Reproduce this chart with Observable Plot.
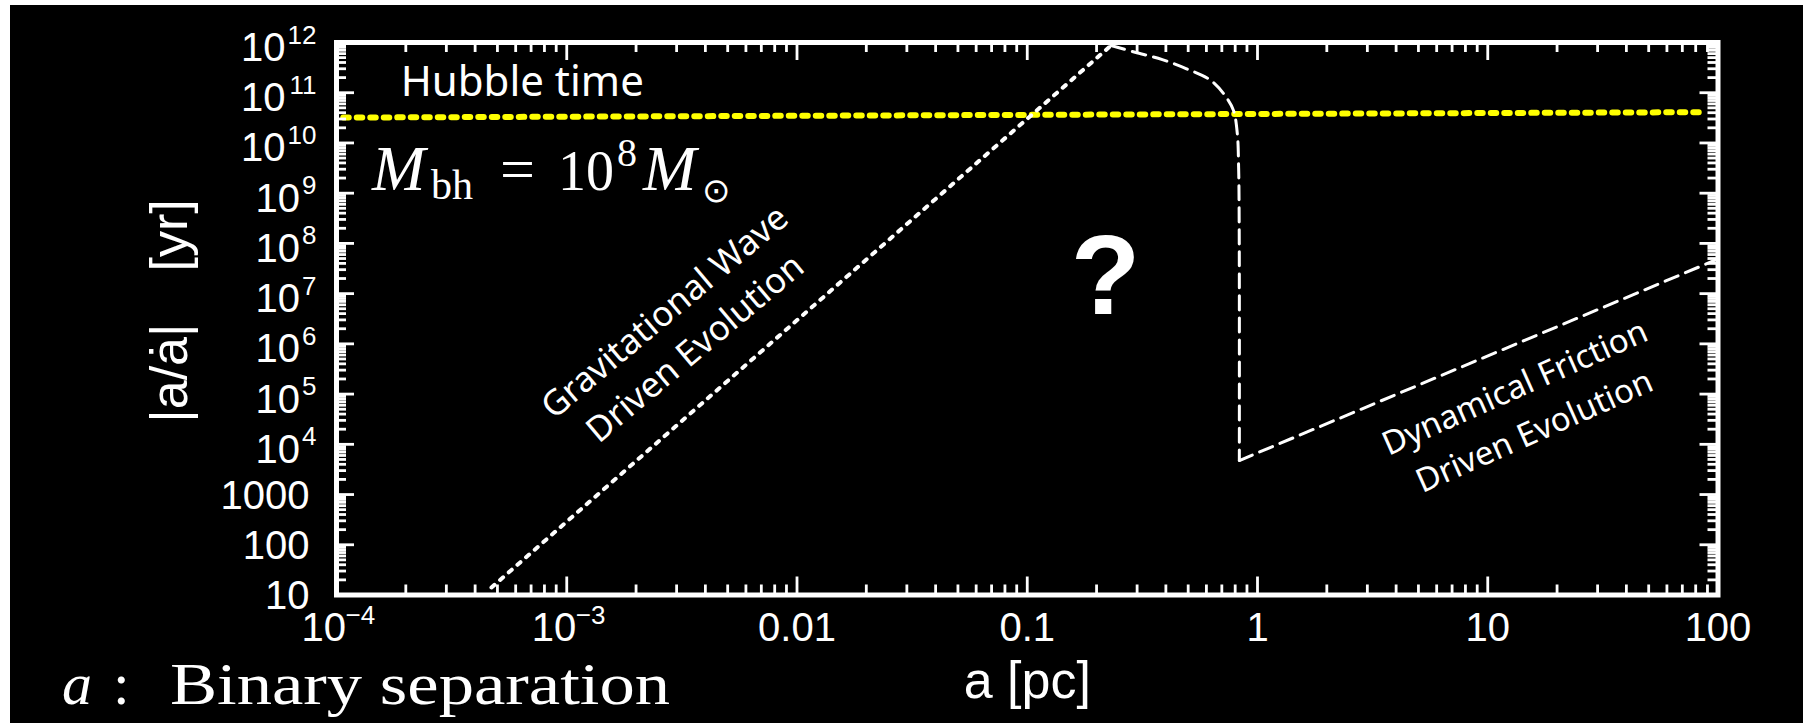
<!DOCTYPE html>
<html>
<head>
<meta charset="utf-8">
<script src="https://cdn.jsdelivr.net/npm/d3@7"></script>
<script src="https://cdn.jsdelivr.net/npm/@observablehq/plot@0.6"></script>
<style>
  html, body { margin: 0; padding: 0; background: #000; }
  #page { position: relative; width: 1803px; height: 723px; overflow: hidden; background: #000; }
  #page svg { position: absolute; left: 0; top: 0; }
  .edge { position: absolute; background: #fff; }
  g[aria-label="tick label"] text { letter-spacing: 1px; stroke: white; stroke-width: 0.6px; }
  g[aria-label="x title"] text { letter-spacing: 4px; }
  g[aria-label="y title"] text { letter-spacing: 4.5px; }
</style>
</head>
<body>
<div id="page"></div>
<script>
// Gravitational-wave driven inspiral: timescale |a/ȧ| ∝ a^4
const gwSeparation = [4.71e-4, 0.231];
const gwTime = [14.1, 8.7e11];

// Stalling regime: from the peak down to the drop near 1 pc
const stallSeparation = [0.231, 0.294, 0.386, 0.492, 0.628, 0.732, 0.787, 0.817, 0.828, 0.833, 0.834];
const stallTime = [8.7e11, 6.4e11, 4.57e11, 3.0e11, 1.75e11, 8.1e10, 4.4e10, 1.55e10, 3.2e9, 1.6e8, 4.76e3];

// Dynamical-friction driven evolution
const dfSeparation = [0.834, 100];
const dfTime = [4.76e3, 4.9e7];

// Hubble time
const hubbleSeparation = [1.07e-4, 88];
const hubbleTime = [3.2e10, 4.1e10];

// Axis ticks
const xTickValues = [1e-4, 1e-3, 0.01, 0.1, 1, 10, 100];
const xTickLabels = ["10^−4", "10^−3", "0.01", "0.1", "1", "10", "100"];
const yTickValues = [10, 100, 1000, 1e4, 1e5, 1e6, 1e7, 1e8, 1e9, 1e10, 1e11, 1e12];
const yTickLabels = ["10", "100", "1000", "10^4", "10^5", "10^6", "10^7", "10^8", "10^9", "10^10", "10^11", "10^12"];

const xTitle = "a [pc]";
const yTitle = "|a/ȧ|\u2003[yr]";

// ---------------------------------------------------------------------------
const W = 1803, H = 723;
const M = {top: 42, right: 85.5, bottom: 128.5, left: 336};
const innerW = W - M.left - M.right;
const innerH = H - M.top - M.bottom;
const MAJOR = 18, MINOR = 10, TICK_W = 2.8;
const LABEL_SIZE = 40, EXP_SIZE = 26;
const NOTE_FONT = "'Noto Sans', 'Open Sans', sans-serif";

const rows = (xs, ys) => xs.map((a, i) => ({a, t: ys[i]}));
const minorOf = decades => decades.slice(0, -1).flatMap(d => d3.range(2, 10).map(k => k * d));
const splitLabel = s => { const [base, exp] = s.split("^"); return {base, exp: exp ?? null}; };

const xLab = xTickValues.map((v, i) => ({v, ...splitLabel(xTickLabels[i])}));
const yLab = yTickValues.map((v, i) => ({v, ...splitLabel(yTickLabels[i])}));

const tickStyle = {stroke: "white", strokeWidth: TICK_W};

// inward ticks on all four sides
const tickMarks = [
  Plot.ruleX(xTickValues, {...tickStyle, insetTop: innerH - MAJOR}),
  Plot.ruleX(xTickValues, {...tickStyle, insetBottom: innerH - MAJOR}),
  Plot.ruleX(minorOf(xTickValues), {...tickStyle, insetTop: innerH - MINOR}),
  Plot.ruleX(minorOf(xTickValues), {...tickStyle, insetBottom: innerH - MINOR}),
  Plot.ruleY(yTickValues, {...tickStyle, insetRight: innerW - MAJOR}),
  Plot.ruleY(yTickValues, {...tickStyle, insetLeft: innerW - MAJOR}),
  Plot.ruleY(minorOf(yTickValues), {...tickStyle, insetRight: innerW - MINOR}),
  Plot.ruleY(minorOf(yTickValues), {...tickStyle, insetLeft: innerW - MINOR})
];

// tick labels (powers of ten drawn as base + raised exponent)
const xPlain = xLab.filter(d => !d.exp), xPow = xLab.filter(d => d.exp);
const yPlain = yLab.filter(d => !d.exp), yPow = yLab.filter(d => d.exp);
const labelBase = {fill: "white", lineAnchor: "bottom", ariaLabel: "tick label"};

const labelMarks = [
  Plot.text(xPlain, {...labelBase, x: "v", text: "base", frameAnchor: "bottom", dy: 45.5, textAnchor: "middle", fontSize: LABEL_SIZE}),
  Plot.text(xPow, {...labelBase, x: "v", text: "base", frameAnchor: "bottom", dx: -35, dy: 45.5, textAnchor: "start", fontSize: LABEL_SIZE}),
  Plot.text(xPow, {...labelBase, x: "v", text: "exp", frameAnchor: "bottom", dx: 9, dy: 28.5, textAnchor: "start", fontSize: EXP_SIZE}),
  Plot.text(yPlain, {...labelBase, y: "v", text: "base", frameAnchor: "left", dx: -27, dy: 14, textAnchor: "end", fontSize: LABEL_SIZE}),
  Plot.text(yPow, {...labelBase, y: "v", text: "exp", frameAnchor: "left", dx: -20, dy: 1, textAnchor: "end", fontSize: EXP_SIZE}),
  ...Array.from(d3.group(yPow, d => d.exp.length), ([n, group]) =>
    Plot.text(group, {...labelBase, y: "v", text: "base", frameAnchor: "left",
      dx: -20 - n * 0.556 * EXP_SIZE - 2, dy: 18.5, textAnchor: "end", fontSize: LABEL_SIZE}))
];

const titleMarks = [
  Plot.text([xTitle], {text: d => d, frameAnchor: "bottom", dy: 102.5, lineAnchor: "bottom", textAnchor: "middle",
    fontSize: 52, fill: "white", ariaLabel: "x title"}),
  Plot.text([yTitle], {text: d => d, frameAnchor: "left", dx: -150, dy: 104, rotate: -90, lineAnchor: "bottom", textAnchor: "start",
    fontSize: 52, fill: "white", ariaLabel: "y title"})
];

const chart = Plot.plot({
  width: W,
  height: H,
  marginTop: M.top,
  marginRight: M.right,
  marginBottom: M.bottom,
  marginLeft: M.left,
  style: {background: "black", color: "white", fontFamily: "'Liberation Sans', Arial, sans-serif"},
  x: {type: "log", domain: [1e-4, 100], axis: null},
  y: {type: "log", domain: [10, 1e12], axis: null},
  marks: [
    // Hubble time
    Plot.line(rows(hubbleSeparation, hubbleTime), {x: "a", y: "t", stroke: "#ffff00", strokeWidth: 6, strokeDasharray: "5.5,8"}),
    // GW driven evolution (dotted)
    Plot.line(rows(gwSeparation, gwTime), {x: "a", y: "t", stroke: "white", strokeWidth: 4, strokeDasharray: "4,7.5"}),
    // stalling + dynamical friction (dashed)
    Plot.line(rows(stallSeparation, stallTime), {x: "a", y: "t", stroke: "white", strokeWidth: 3, strokeDasharray: "14,8", curve: "catmull-rom"}),
    Plot.line(rows(dfSeparation, dfTime), {x: "a", y: "t", stroke: "white", strokeWidth: 3, strokeDasharray: "14,8"}),

    ...tickMarks,
    Plot.frame({stroke: "white", strokeWidth: 5}),
    ...labelMarks,
    ...titleMarks,

    // annotations
    Plot.text(["Hubble time"], {text: d => d, x: 1.9e-4, y: 8.8e10, textAnchor: "start", lineAnchor: "bottom",
      fontSize: 42, fontFamily: NOTE_FONT, fill: "white"}),
    Plot.text(["?"], {text: d => d, x: 0.219, y: 2.1e7, fontSize: 114, fontWeight: "bold",
      fontFamily: "'Liberation Sans', Arial, sans-serif", fill: "white"}),
    Plot.text(["Gravitational Wave\nDriven Evolution"], {text: d => d, x: 3.03e-3, y: 2.12e6, rotate: -40,
      lineHeight: 1.35, fontSize: 35, fontFamily: NOTE_FONT, fill: "white"}),
    Plot.text(["Dynamical Friction\nDriven Evolution"], {text: d => d, x: 14.2, y: 5.9e4, rotate: -24,
      lineHeight: 1.45, fontSize: 33, fontFamily: NOTE_FONT, fill: "white"})
  ]
});

// Mass label and caption set in a serif math style
const svg = d3.select(chart);
const serif = "'Liberation Serif', 'DejaVu Serif', serif";
const put = (g, txt, x, y, size, italic) =>
  g.append("text").attr("x", x).attr("y", y).attr("font-size", size)
   .attr("text-anchor", "start")
   .attr("font-style", italic ? "italic" : null).text(txt);

const math = svg.append("g").attr("fill", "white").attr("font-family", serif).attr("text-anchor", "start");
put(math, "M", 372, 190, 64, true);
put(math, "bh", 431, 199, 42, false);
put(math, "=", 500, 190, 62, false);
put(math, "10", 558, 190, 56, false);
put(math, "8", 617, 166, 40, false);
put(math, "M", 643, 190, 64, true);
put(math, "⊙", 702, 202, 34, false).attr("font-family", "'DejaVu Sans', sans-serif");

const caption = svg.append("g").attr("fill", "white").attr("font-family", serif).attr("text-anchor", "start");
put(caption, "a", 62, 704, 60, true);
put(caption, ":", 113, 704, 60, false);
put(caption, "Binary separation", 170, 704, 60, false)
  .attr("textLength", 500).attr("lengthAdjust", "spacingAndGlyphs");

const page = document.getElementById("page");
page.appendChild(chart);
// white margins of the slide at the top and left
for (const [l, t, w, h] of [[0, 0, W, 5], [0, 0, 10, H]]) {
  const e = document.createElement("div");
  e.className = "edge";
  Object.assign(e.style, {left: l + "px", top: t + "px", width: w + "px", height: h + "px"});
  page.appendChild(e);
}
</script>
</body>
</html>
